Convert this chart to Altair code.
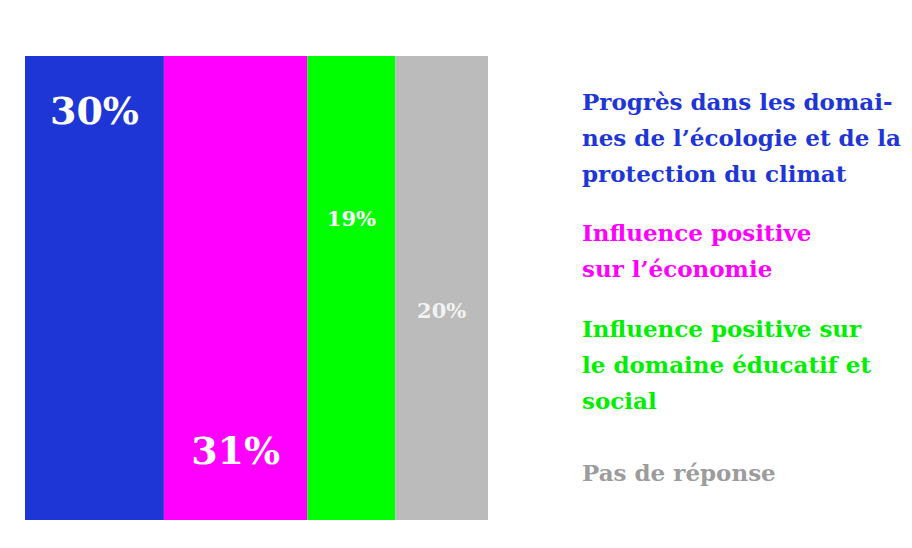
import altair as alt
import pandas as pd

# ---- data ----
keys = ["ecologie", "economie", "educatif", "sans"]
values = [30, 31, 19, 20]
pct_labels = ["30%", "31%", "19%", "20%"]
legend_lines = [
    ["Progrès dans les domai-", "nes de l’écologie et de la", "protection du climat"],
    ["Influence positive", "sur l’économie"],
    ["Influence positive sur", "le domaine éducatif et", "social"],
    ["Pas de réponse"],
]

# ---- styles ----
bar_colors = ["#1e36d5", "#ff00ff", "#00ff00", "#bbbbbb"]
legend_colors = ["#1e36d5", "#ff00ff", "#00ee00", "#9c9c9c"]
pct_colors = ["#ffffff", "#ffffff", "#ffffff", "#f2f2f2"]
pct_sizes = [38, 38, 21, 21]
pct_y = [57, 397, 164, 256]
legend_y = [54, 185, 281, 425]

W, H = 463, 464
FONT = "DejaVu Serif"

df = pd.DataFrame({"key": keys, "value": values, "label": pct_labels, "order": range(len(keys))})

base = (
    alt.Chart(df)
    .transform_window(end="sum(value)", sort=[alt.SortField("order")], frame=[None, 0])
    .transform_calculate(start="datum.end - datum.value", mid="(datum.start + datum.end) / 2")
)

xscale = alt.Scale(domain=[0, 100], nice=False, zero=True)

bars = base.mark_rect(strokeWidth=0).encode(
    x=alt.X("start:Q", scale=xscale, axis=None),
    x2="end:Q",
    y=alt.value(0),
    y2=alt.value(H),
    color=alt.Color("key:N", scale=alt.Scale(domain=keys, range=bar_colors), legend=None),
)

layers = [bars]
for i, k in enumerate(keys):
    layers.append(
        base.transform_filter(alt.datum.key == k)
        .mark_text(font=FONT, fontWeight="bold", fontSize=pct_sizes[i], color=pct_colors[i],
                   align="center", baseline="middle")
        .encode(x=alt.X("mid:Q", scale=xscale, axis=None), y=alt.value(pct_y[i]), text="label:N")
    )
    layers.append(
        base.transform_filter(alt.datum.key == k)
        .mark_text(font=FONT, fontWeight="bold", fontSize=23, color=legend_colors[i],
                   align="left", baseline="alphabetic", lineHeight=36,
                   text=legend_lines[i])
        .encode(x=alt.value(557), y=alt.value(legend_y[i]))
    )

chart = (
    alt.layer(*layers)
    .properties(width=W, height=H,
                autosize=alt.AutoSizeParams(type="none"),
                padding={"left": 17, "top": 48, "right": 416, "bottom": 20})
    .configure_view(stroke=None)
)

chart.save("out.html", embed_options={"renderer": "svg", "actions": False})
